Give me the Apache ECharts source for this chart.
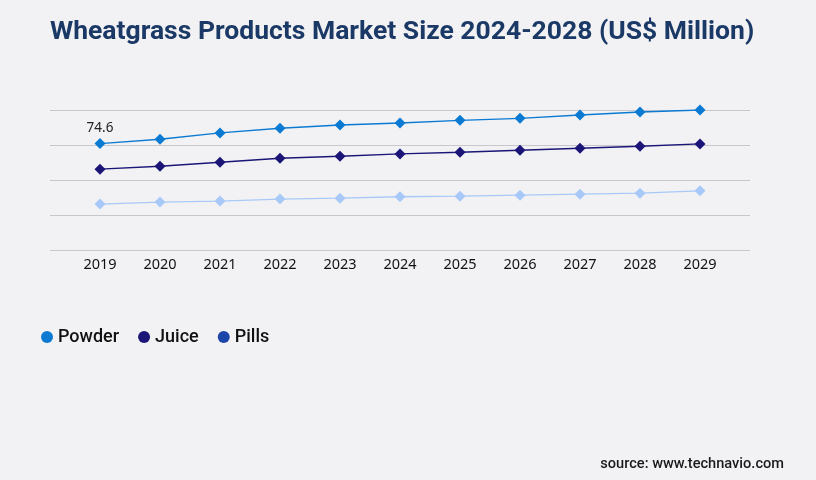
<!DOCTYPE html>
<html>
<head>
<meta charset="utf-8">
<script src="https://cdn.jsdelivr.net/npm/echarts@6/dist/echarts.min.js"></script>
<style>
html,body{margin:0;padding:0;background:#f2f2f4;}
#c{width:816px;height:480px;}
</style>
</head>
<body>
<div id="c"></div>
<script>
var years = ['2019','2020','2021','2022','2023','2024','2025','2026','2027','2028','2029'];
var powder = [74.6, 77.6, 82.0, 85.3, 87.6, 89.0, 90.9, 92.3, 94.6, 96.7, 98.1];
var juice = [56.6, 58.7, 61.5, 64.3, 65.7, 67.3, 68.5, 69.9, 71.3, 72.7, 74.3];
var pills = [32.2, 33.6, 34.3, 35.7, 36.3, 37.3, 37.7, 38.4, 39.1, 39.8, 41.5];
var seriesNames = ['Powder', 'Juice', 'Pills'];
var yMin = 0, yMax = 98.1, yInterval = 24.525;

var chart = echarts.init(document.getElementById('c'), null, {renderer: 'canvas'});

var powderData = powder.map(function (v, i) {
  return i === 0 ? {value: v, label: {show: true}} : v;
});

function lineSeries(name, data, color, z) {
  return {
    name: name, type: 'line', xAxisIndex: 1, yAxisIndex: 1,
    data: data, symbol: 'diamond', symbolSize: 11, z: z,
    lineStyle: {color: color, width: 1.3},
    itemStyle: {color: color},
    label: {show: false, position: 'top', distance: 3, color: '#222',
            fontFamily: 'Noto Sans', fontSize: 13.5, formatter: '{c}'},
    emphasis: {disabled: true}, animation: false
  };
}

chart.setOption({
  backgroundColor: '#f2f2f4',
  animation: false,
  title: {
    text: 'Wheatgrass Products Market Size 2024-2028 (US$ Million)',
    left: 45, top: 14,
    textStyle: {fontFamily: 'Roboto', fontSize: 26.5, fontWeight: 'bold', color: '#1b3966'}
  },
  legend: {
    data: [
      {name: seriesNames[0], itemStyle: {color: '#0b7ad3'}},
      {name: seriesNames[1], itemStyle: {color: '#1a1577'}},
      {name: seriesNames[2], itemStyle: {color: '#1b45a9'}}
    ],
    left: 36, top: 323, icon: 'circle', itemWidth: 12, itemHeight: 12, itemGap: 19,
    textStyle: {fontFamily: 'Roboto', fontSize: 18, fontWeight: 500, color: '#111'}
  },
  grid: [
    {left: 50, right: 66, top: 110, height: 140},
    {left: 100, right: 116, top: 110, height: 140}
  ],
  xAxis: [
    {type: 'value', gridIndex: 0, min: 0, max: 1, show: false},
    {type: 'category', gridIndex: 1, data: years, boundaryGap: false,
     axisLine: {show: false}, axisTick: {show: false}, splitLine: {show: false},
     axisLabel: {fontFamily: 'Noto Sans', fontSize: 14.5, color: '#111', margin: 7}}
  ],
  yAxis: [
    {type: 'value', gridIndex: 0, min: yMin, max: yMax, interval: yInterval,
     axisLine: {show: false}, axisTick: {show: false}, axisLabel: {show: false},
     splitLine: {lineStyle: {color: '#c8c8cc', width: 1}}},
    {type: 'value', gridIndex: 1, min: yMin, max: yMax, interval: yInterval, show: false,
     splitLine: {show: false}}
  ],
  series: [
    lineSeries(seriesNames[0], powderData, '#0b7ad3', 3),
    lineSeries(seriesNames[1], juice, '#1a1577', 2),
    lineSeries(seriesNames[2], pills, '#a8c9f8', 1)
  ],
  graphic: [
    {type: 'text', right: 32, top: 457,
     style: {text: 'source: www.technavio.com', fontFamily: 'Roboto', fontSize: 14.6,
             fontWeight: 500, fill: '#1a1a1a'}}
  ]
});
</script>
</body>
</html>
